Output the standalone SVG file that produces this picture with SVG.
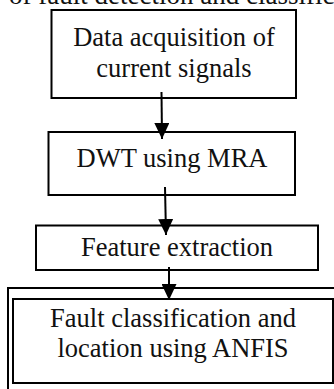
<svg xmlns="http://www.w3.org/2000/svg" width="334" height="389" viewBox="0 0 334 389">
<style>
.box{fill:#fff;stroke:#000;stroke-width:2}
.t{font-family:"Liberation Serif","Times New Roman",serif;font-size:26.5px;fill:#111;text-anchor:middle}
.c{stroke:#000;stroke-width:2;fill:none}
</style>
<defs>
<marker id="ah" markerUnits="userSpaceOnUse" markerWidth="16" markerHeight="15" viewBox="0 0 16 15" refX="16" refY="7.5" orient="auto">
<path d="M0,0 L16,7.5 L0,15 z" fill="#000"/>
</marker>
</defs>
<rect width="334" height="389" fill="#fff"/>
<text class="t" x="9" y="3.5" style="text-anchor:start;font-size:27px">of fault detection and classification</text>
<g id="n1">
<rect class="box" x="51.5" y="10" width="244.5" height="88"/>
<text class="t" x="174" y="45.5">Data acquisition of</text>
<text class="t" x="174" y="77">current signals</text>
</g>
<g id="n2">
<rect class="box" x="48.5" y="132" width="246.5" height="63"/>
<text class="t" x="172" y="167">DWT using MRA</text>
</g>
<g id="n3">
<rect class="box" x="36" y="225.5" width="282" height="44.5"/>
<text class="t" x="177" y="256">Feature extraction</text>
</g>
<g id="n4">
<path class="c" d="M8,389 V288 H334"/>
<rect class="box" x="13" y="299" width="320" height="84"/>
<text class="t" x="173" y="327">Fault classification and</text>
<text class="t" x="173" y="357">location using ANFIS</text>
</g>
<g id="connectors">
<line class="c" x1="161.5" y1="92" x2="162" y2="139" marker-end="url(#ah)"/>
<line class="c" x1="165" y1="187" x2="166" y2="235" marker-end="url(#ah)"/>
<line class="c" x1="169" y1="267" x2="169" y2="300" marker-end="url(#ah)"/>
</g>
</svg>
